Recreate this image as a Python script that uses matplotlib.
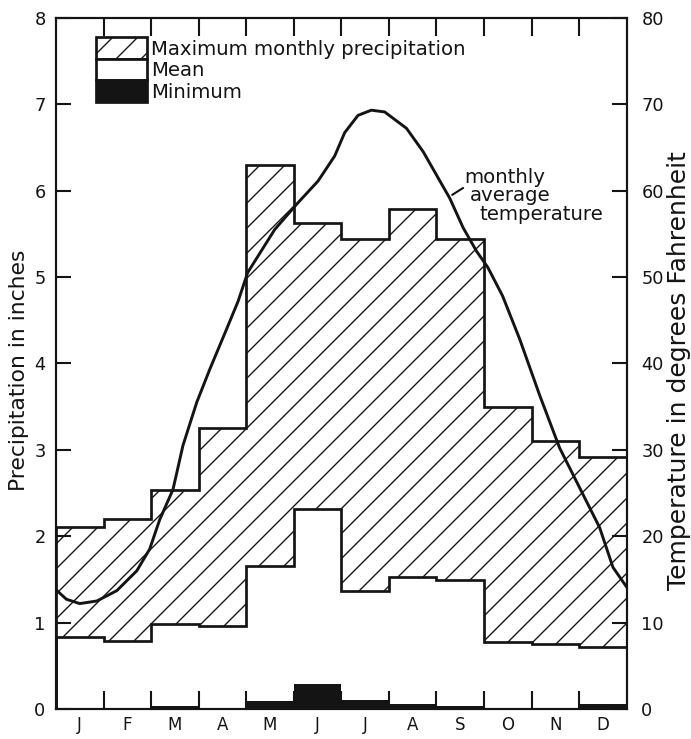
import matplotlib
matplotlib.use("Agg")
import matplotlib.pyplot as plt
import numpy as np
from matplotlib.patches import Patch

# ---------------- data ----------------
months = ['J', 'F', 'M', 'A', 'M', 'J', 'J', 'A', 'S', 'O', 'N', 'D']
max_precip = [2.11, 2.20, 2.53, 3.25, 6.29, 5.62, 5.44, 5.79, 5.44, 3.49, 3.10, 2.92]
mean_precip = [0.83, 0.79, 0.98, 0.96, 1.65, 2.31, 1.36, 1.53, 1.49, 0.78, 0.75, 0.72]
min_precip = [0.01, 0.0, 0.03, 0.01, 0.09, 0.29, 0.10, 0.06, 0.03, 0.01, 0.0, 0.06]

# monthly average temperature curve (position in months, deg F)
temp_pos = [0.00, 0.22, 0.50, 0.86, 1.28, 1.70, 1.97, 2.18, 2.46, 2.67, 2.96, 3.24,
            3.59, 3.83, 4.03, 4.60, 5.09, 5.51, 5.86, 6.07, 6.35, 6.63, 6.91, 7.37,
            7.72, 8.00, 8.28, 8.56, 8.84, 9.08, 9.39, 9.75, 10.17, 10.59, 11.01,
            11.43, 11.71, 12.00]
temp_vals = [13.8, 12.7, 12.2, 12.5, 13.7, 16.0, 18.5, 21.9, 25.4, 30.5, 35.5, 39.4,
             44.0, 47.2, 50.5, 55.5, 58.6, 61.1, 64.0, 66.7, 68.7, 69.3, 69.1, 67.2,
             64.5, 61.8, 59.1, 55.7, 53.0, 51.1, 47.8, 42.8, 36.3, 30.2, 25.6,
             21.0, 16.4, 14.1]

precip_ticks = [0, 1, 2, 3, 4, 5, 6, 7, 8]
temp_ticks = [0, 10, 20, 30, 40, 50, 60, 70, 80]

# ---------------- style ----------------
INK = '#141414'
plt.rcParams['font.family'] = ['DejaVu Sans']
plt.rcParams['hatch.linewidth'] = 0.65
plt.rcParams['hatch.color'] = INK

fig = plt.figure(figsize=(691 / 150, 739 / 150), dpi=150)
ax = fig.add_axes([0.081, 0.0406, 0.826, 0.9354])

n = len(months)
edges = np.arange(n + 1)
x = np.arange(n)
mx = np.array(max_precip)
mn = np.array(mean_precip)
mi = np.array(min_precip)

# hatched max region (between mean and max)
ax.bar(x, mx - mn, bottom=mn, width=1.0, align='edge', facecolor='white',
       edgecolor=INK, linewidth=0, hatch='//', zorder=1)
# minimum, black
ax.bar(x, mi, width=1.0, align='edge', color=INK, linewidth=0, zorder=2)
# step outlines
ax.stairs(mx, edges, color=INK, linewidth=1.3, zorder=3)
ax.stairs(mn, edges, color=INK, linewidth=1.3, zorder=3)

ax.set_xlim(0, n)
ax.set_ylim(0, 8)

for s in ax.spines.values():
    s.set_linewidth(1.0)
    s.set_color(INK)

ax.set_yticks(precip_ticks)
ax.set_yticklabels([str(t) for t in precip_ticks])
ax.tick_params(axis='y', direction='in', length=7, width=1.0, pad=5,
               labelsize=8.5, colors=INK)

ax.set_xticks(edges[1:-1])
ax.set_xticklabels([])
ax.set_xticks(x + 0.5, minor=True)
ax.set_xticklabels(months, minor=True)
ax.tick_params(axis='x', which='major', direction='in', length=8.5, width=1.0,
               top=True, bottom=True, colors=INK)
ax.tick_params(axis='x', which='minor', length=0, pad=3.5, labelsize=8,
               colors=INK)

ax.set_ylabel('Precipitation in inches', fontsize=10.5, color=INK)
ax.yaxis.set_label_coords(-0.047, 0.49)

# legend
handles = [Patch(facecolor='white', edgecolor=INK, hatch='//', linewidth=1.3),
           Patch(facecolor='white', edgecolor=INK, linewidth=1.3),
           Patch(facecolor=INK, edgecolor=INK, linewidth=1.3)]
labels = ['Maximum monthly precipitation', 'Mean', 'Minimum']
leg = ax.legend(handles, labels, loc='upper left', bbox_to_anchor=(0.07, 0.972),
                frameon=False, fontsize=9.5, handlelength=2.6, handleheight=1.3,
                handletextpad=0.2, labelspacing=0.0, borderpad=0, borderaxespad=0)
for t in leg.get_texts():
    t.set_color(INK)

# temperature axis
ax2 = ax.twinx()
ax2.set_ylim(0, 80)
ax2.set_yticks(temp_ticks)
ax2.set_yticklabels([str(t) for t in temp_ticks])
ax2.tick_params(axis='y', direction='in', length=7, width=1.0, pad=7,
                labelsize=8.5, colors=INK)
for s in ax2.spines.values():
    s.set_linewidth(1.0)
    s.set_color(INK)
ax2.plot(temp_pos, temp_vals, color=INK, linewidth=1.4, solid_capstyle='round',
         zorder=4)
ax2.set_ylabel('Temperature in degrees Fahrenheit', fontsize=12, color=INK)
ax2.yaxis.set_label_coords(1.07, 0.49)

# annotation
ax2.annotate('', xy=(8.33, 59.5), xytext=(8.56, 60.3),
             arrowprops=dict(arrowstyle='-', color=INK, linewidth=1.0,
                             shrinkA=0, shrinkB=0))
ax2.text(8.59, 61.5, 'monthly', fontsize=9.5, color=INK, ha='left', va='center')
ax2.text(8.70, 59.4, 'average', fontsize=9.5, color=INK, ha='left', va='center')
ax2.text(8.91, 57.2, 'temperature', fontsize=9.5, color=INK, ha='left', va='center')

fig.savefig('out.png', dpi=150, facecolor='white')
